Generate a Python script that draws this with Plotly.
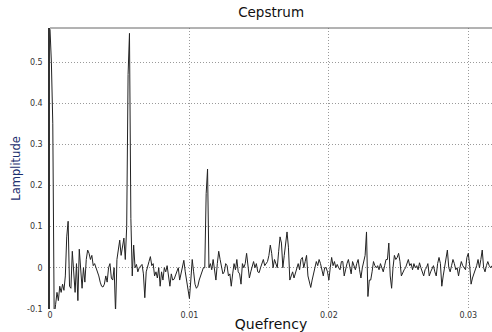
import plotly.graph_objects as go

# Sample spacing of the cepstrum (seconds)
dt = 0.0001

# Cepstrum amplitudes, one per quefrency sample
amplitude = [
    0.58, 0.50, 0.35, -0.12, -0.09, -0.06, -0.08, -0.045, -0.06, -0.04,
    -0.055, -0.02, 0.075, 0.113, -0.045, -0.05, 0.04, -0.02, -0.06, 0.01,
    -0.08, 0.045, -0.01, -0.05, 0.0, -0.035, 0.02, 0.043, 0.035, 0.02,
    0.03, 0.005, 0.01, 0.0, -0.005, -0.02, -0.035, -0.045, -0.047, -0.04,
    -0.02, -0.035, 0.0, 0.01, -0.025, -0.03, 0.0, -0.11, 0.02, 0.043,
    0.067, 0.03, 0.05, 0.072, 0.02, 0.1, 0.47, 0.57, 0.12, -0.02,
    0.055, 0.0, 0.008, -0.01, 0.0, 0.005, 0.008, -0.015, -0.073, -0.01,
    0.0, 0.015, 0.027, 0.005, 0.01, -0.02, -0.01, -0.025, 0.0, -0.045,
    -0.01, -0.03, 0.0, -0.01, 0.005, -0.02, -0.045, -0.015, -0.03, -0.028,
    -0.02, -0.01, 0.0, -0.03, -0.015, 0.005, 0.018, -0.01, -0.035, -0.06,
    -0.075, -0.03, 0.02, -0.01, -0.04, -0.05, -0.045, -0.03, -0.02, -0.012,
    0.0, 0.0, 0.18, 0.24, 0.0, 0.01, -0.005, 0.02, 0.0, -0.03,
    0.01, 0.04, 0.02, 0.005, -0.015, -0.01, 0.01, 0.005, -0.02, -0.015,
    -0.045, -0.015, 0.01, -0.005, 0.02, -0.01, -0.015, -0.04, 0.01, 0.0,
    0.01, 0.035, -0.005, -0.025, -0.01, 0.005, 0.015, 0.0, 0.01, -0.01,
    -0.012, 0.0, 0.008, 0.02, 0.005, 0.01, 0.015, 0.03, 0.055, 0.035,
    0.0, 0.02, 0.01, 0.0, 0.04, 0.075, 0.06, 0.0, 0.03, 0.055,
    0.087, 0.05, -0.03, -0.02, -0.01, -0.025, -0.015, 0.0, 0.01, -0.005,
    0.02, 0.025, 0.0, 0.015, 0.03, -0.02, -0.035, -0.048, -0.03, -0.015,
    0.0, 0.015, 0.005, 0.02, 0.01, -0.005, -0.02, 0.0, 0.0, -0.01,
    -0.03, 0.0, 0.025, 0.005, 0.015, 0.0, 0.008, 0.0, -0.005, 0.015,
    0.015, -0.02, 0.0, 0.01, 0.02, 0.0, -0.015, 0.015, 0.005, -0.005,
    0.01, 0.02, -0.005, -0.025, 0.0, 0.015, 0.03, 0.087, -0.07, -0.03,
    -0.03, -0.01, 0.015, 0.005, 0.0, 0.005, -0.005, 0.01, 0.0, -0.01,
    0.005, 0.02, 0.02, 0.06, -0.02, -0.05, 0.0, 0.03, 0.02, 0.025,
    0.035, 0.015, -0.02, -0.01, -0.005, 0.0, 0.01, 0.02, 0.005, 0.01,
    -0.005, 0.01, 0.0, 0.005, -0.005, 0.012, 0.0, -0.01, -0.02, -0.005,
    0.0, 0.01, -0.02, -0.01, 0.0, 0.005, -0.01, -0.02, 0.01, 0.025,
    0.01, -0.045, -0.02, 0.005, 0.02, 0.043, 0.0, -0.01, 0.005, 0.02,
    0.01, -0.005, 0.0, -0.02, 0.0, 0.015, 0.005, 0.0, -0.005, 0.025,
    0.035, 0.005, -0.04, -0.025, -0.015, -0.01, 0.005, 0.02, 0.0, 0.02,
    0.043, 0.0, -0.01, 0.005, 0.015, 0.005, 0.0, 0.005,
]
quefrency = [i * dt for i in range(len(amplitude))]

x_tick_vals = [0, 0.01, 0.02, 0.03]
x_tick_text = ["0", "0.01", "0.02", "0.03"]
y_tick_vals = [-0.1, 0, 0.1, 0.2, 0.3, 0.4, 0.5]
y_tick_text = ["-0.1", "0", "0.1", "0.2", "0.3", "0.4", "0.5"]

fig = go.Figure()
fig.add_trace(go.Scatter(
    x=quefrency, y=amplitude, mode="lines",
    line=dict(color="#222222", width=1),
    hoverinfo="skip", showlegend=False,
))

font_family = "DejaVu Sans, Verdana, sans-serif"

fig.update_layout(
    width=492, height=332,
    margin=dict(l=50, r=0, t=28, b=23, autoexpand=False),
    paper_bgcolor="white", plot_bgcolor="white",
    font=dict(family=font_family, color="#222222"),
    title=dict(text="Cepstrum", x=0.551, xanchor="center", y=0.964, yanchor="middle",
               font=dict(size=13.5, color="#111111")),
    xaxis=dict(
        range=[0, 0.0317], automargin=False,
        tickmode="array", tickvals=x_tick_vals, ticktext=x_tick_text,
        tickfont=dict(size=8, color="#333333"),
        showgrid=True, gridcolor="#9a9a9a", griddash="1px,2px", gridwidth=1,
        zeroline=False, showline=False, ticks="",
        title=dict(text="Quefrency", font=dict(size=14, color="#111111"), standoff=1),
    ),
    yaxis=dict(
        range=[-0.1004, 0.583], automargin=False,
        tickmode="array", tickvals=y_tick_vals, ticktext=y_tick_text,
        tickfont=dict(size=8, color="#333333"),
        showgrid=True, gridcolor="#9a9a9a", griddash="1px,2px", gridwidth=1,
        zeroline=False, showline=True, linecolor="#333333", linewidth=1.5,
        ticks="", ticklabelstandoff=4,
        title=dict(text="Lamplitude", font=dict(size=11.5, color="#1c2f6e"), standoff=4),
    ),
    shapes=[dict(type="line", xref="paper", yref="paper", x0=0, x1=1, y0=1, y1=1,
                 line=dict(color="#666666", width=1))],
)

fig.write_html(
    "out.html",
    config={"displayModeBar": False},
    post_script="document.body.style.margin='0';document.body.style.overflow='hidden';",
)
